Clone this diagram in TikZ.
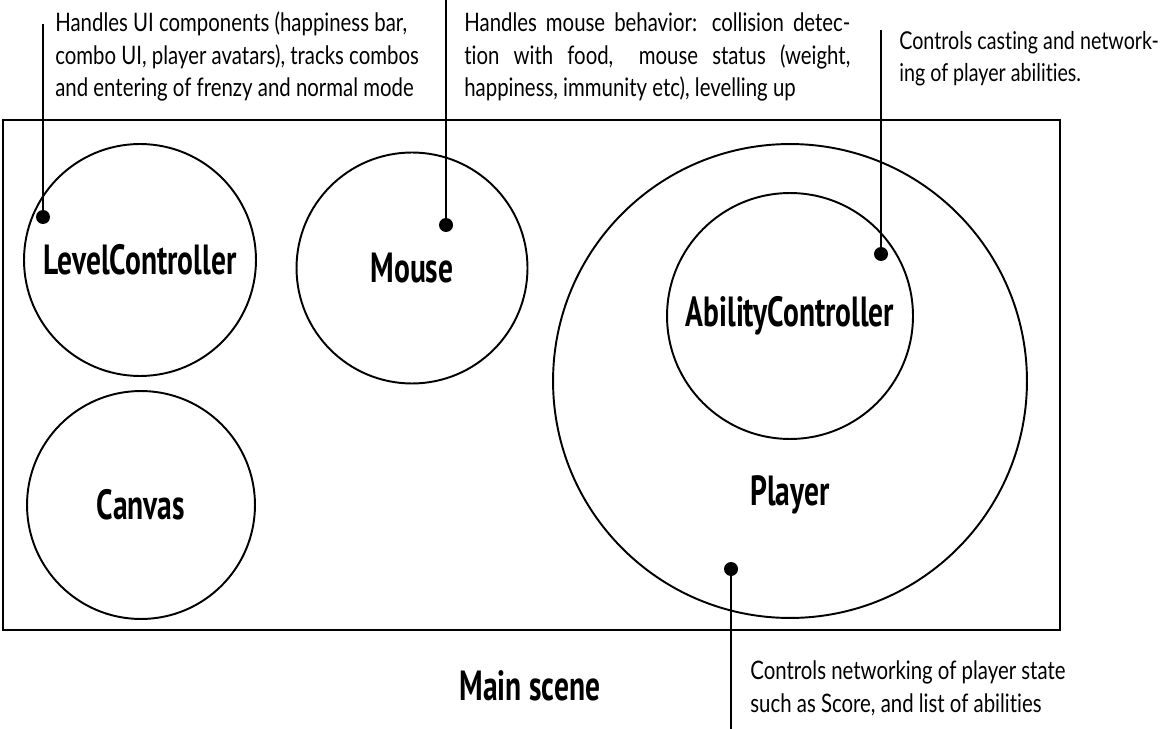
\documentclass[tikz,border=0pt]{standalone}
\usepackage{fontspec}
\setmainfont[FakeStretch=0.8,Ligatures=NoCommon]{Lato}
\newfontfamily\labelfont[FakeStretch=0.7]{PT Sans}
\usetikzlibrary{positioning}

\tikzset{
  part/.style={draw, circle, line width=1.1pt, inner sep=0pt, font=\fontsize{24}{28}\labelfont\bfseries},
  title/.style={font=\fontsize{24}{28}\labelfont\bfseries, anchor=base},
  pin/.style={circle, fill, inner sep=0pt, minimum size=0.28cm},
  lead/.style={line width=1.1pt},
  note/.style={inner sep=0pt, align=left, font=\fontsize{14.5}{18.7}\selectfont}
}

\begin{document}
\begin{tikzpicture}[x=0.02cm, y=-0.02cm]
\useasboundingbox (0,0) rectangle (1165,729);

% scene frame
\node[draw, line width=1.1pt, minimum width=21.14cm, minimum height=10.2cm, anchor=north west, inner sep=0pt] (scene) at (2,119) {};
\node[title] (scenelabel) at (530,700) {Main scene};

% components
\node[part, minimum size=4.64cm] (level) at (140,260) {LevelController};
\node[part, minimum size=4.56cm] (canvas) at (141,505) {Canvas};
\node[part, minimum size=4.62cm] (mouse) at (412,268) {Mouse};
\node[part, minimum size=9.48cm] (player) at (790,381) {};
\node[title] (playerlabel) at (790,505) {Player};
\node[part, minimum size=4.92cm] (ability) at (790,316) {AbilityController};

% pins and leaders
\node[pin] (levelpin) at (43,217) {};
\node[pin] (mousepin) at (446,225) {};
\node[pin] (abilitypin) at (881,254) {};
\node[pin] (playerpin) at (731,569) {};
\coordinate (levelend) at (43,24);
\coordinate (mouseend) at (446,0);
\coordinate (abilityend) at (881,30);
\coordinate (playerend) at (731,729);
\draw[lead] (levelpin.center) -- (levelend);
\draw[lead] (mousepin.center) -- (mouseend);
\draw[lead] (abilitypin.center) -- (abilityend);
\draw[lead] (playerpin.center) -- (playerend);

% notes (base = last line)
\node[note, anchor=base west] (levelnote) at (55,97) {Handles UI components (happiness bar,\\combo UI, player avatars), tracks combos\\and entering of frenzy and normal mode};
\node[note, anchor=base west] (mousenote) at (464,97) {\makebox[7.72cm][s]{Handles mouse behavior: collision detec-}\\\makebox[7.72cm][s]{tion with food,\quad mouse status (weight,}\\happiness, immunity etc), levelling up};
\node[note, anchor=base west, font=\fontsize{14}{18.7}\selectfont] (abilitynote) at (899,82) {Controls casting and network-\\ing of player abilities.};
\node[note, anchor=base west] (playernote) at (750,712) {Controls networking of player state\\such as Score, and list of abilities};
\end{tikzpicture}
\end{document}
